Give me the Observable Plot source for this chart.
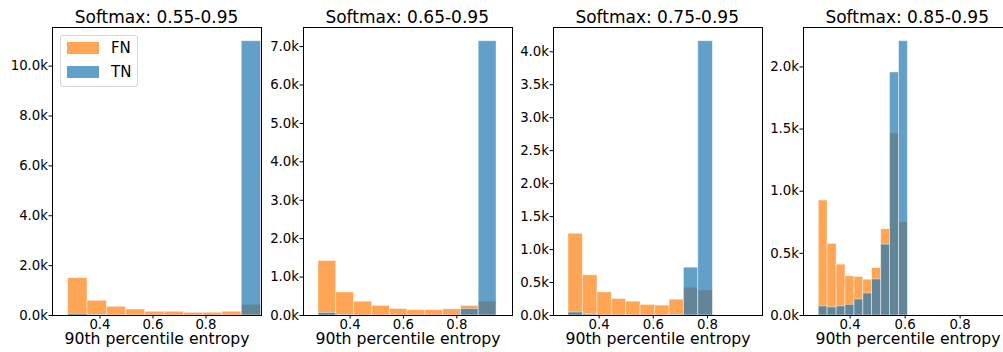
<!DOCTYPE html>
<html>
<head>
<meta charset="utf-8">
<script src="https://cdn.jsdelivr.net/npm/d3@7"></script>
<script src="https://cdn.jsdelivr.net/npm/@observablehq/plot@0.6"></script>
<style>
  html, body { margin: 0; padding: 0; background: #fff; }
  #chart { position: relative; width: 1003px; height: 352px; overflow: hidden; font-family: "DejaVu Sans", sans-serif; }
  .panel { position: absolute; top: 0; }
  .panel svg { max-width: none !important; display: block; }
  .title { position: absolute; top: 0; height: 26px; box-sizing: border-box; padding-top: 9px; font-size: 17px; line-height: 17px; text-align: center; color: #000; white-space: nowrap; }
  .legend { position: absolute; box-sizing: border-box; border: 1px solid rgba(204,204,204,0.8); border-radius: 3px; background: rgba(255,255,255,0.8); }
  .legend .sw { position: absolute; width: 32px; height: 11.7px; }
  .legend .lb { position: absolute; font-size: 15px; line-height: 12px; color: #000; }
</style>
</head>
<body>
<div id="chart"></div>
<script>
// ---- data ----
const titles = ["Softmax: 0.55-0.95", "Softmax: 0.65-0.95", "Softmax: 0.75-0.95", "Softmax: 0.85-0.95"];
const seriesNames = ["FN", "TN"];
const seriesColors = ["#ff7f0e", "#1f77b4"];
const xLabel = "90th percentile entropy";

const binEdges1 = [0.280, 0.353, 0.426, 0.499, 0.571, 0.644, 0.717, 0.790, 0.862, 0.935, 1.008];
const binEdges2 = [0.2815, 0.348, 0.415, 0.482, 0.549, 0.615, 0.682, 0.749, 0.816, 0.882, 0.949];
const binEdges3 = [0.287, 0.340, 0.394, 0.447, 0.500, 0.553, 0.607, 0.660, 0.713, 0.766, 0.820];
const binEdges4 = [0.286, 0.318, 0.351, 0.383, 0.416, 0.448, 0.480, 0.513, 0.545, 0.578, 0.610];

const fn1 = [1500, 590, 350, 240, 150, 150, 110, 110, 150, 430];
const tn1 = [65, 20, 0, 0, 0, 0, 0, 0, 0, 11000];
const fn2 = [1420, 600, 360, 250, 170, 140, 140, 160, 250, 360];
const tn2 = [65, 10, 0, 0, 0, 0, 0, 0, 170, 7140];
const fn3 = [1240, 610, 350, 250, 210, 160, 150, 240, 420, 380];
const tn3 = [45, 15, 0, 0, 0, 0, 0, 10, 725, 4160];
const fn4 = [925, 576, 409, 315, 310, 288, 382, 694, 1465, 750];
const tn4 = [73, 65, 73, 86, 129, 177, 290, 570, 1955, 2207];

const xDomains = [[0.2208, 1.0095], [0.2253, 1.0088], [0.2317, 1.003], [0.2305, 0.9905]];
const yMaxes = [11550, 7497, 4368, 2317];
const xTicks = [0.4, 0.6, 0.8];
const yTicks1 = [0, 2000, 4000, 6000, 8000, 10000];
const yTicks2 = [0, 1000, 2000, 3000, 4000, 5000, 6000, 7000];
const yTicks3 = [0, 500, 1000, 1500, 2000, 2500, 3000, 3500, 4000];
const yTicks4 = [0, 500, 1000, 1500, 2000];

// ---- layout ----
const panelLefts = [52, 302.7, 552.7, 802.7];
const frameW = 209;
const mLeft = 52, mRight = 10;
const svgTop = 26, svgH = 326, mTop = 1, mBottom = 37;

const panels = [
  {edges: binEdges1, fn: fn1, tn: tn1, yTicks: yTicks1},
  {edges: binEdges2, fn: fn2, tn: tn2, yTicks: yTicks2},
  {edges: binEdges3, fn: fn3, tn: tn3, yTicks: yTicks3},
  {edges: binEdges4, fn: fn4, tn: tn4, yTicks: yTicks4}
];

const chart = document.getElementById("chart");

function rows(edges, counts) {
  return counts.map((c, i) => ({x0: edges[i], x1: edges[i + 1], count: c})).filter(d => d.count > 0);
}

panels.forEach((p, i) => {
  const left = panelLefts[i];
  const title = document.createElement("div");
  title.className = "title";
  title.style.left = left + "px";
  title.style.width = frameW + "px";
  title.textContent = titles[i];
  chart.appendChild(title);

  const W = mLeft + frameW + mRight;
  const barOpts = {x1: "x0", x2: "x1", y1: 0, y2: "count", fillOpacity: 0.7, stroke: "white", strokeOpacity: 0.55, strokeWidth: 0.8};
  const svg = Plot.plot({
    width: W,
    height: svgH,
    marginLeft: mLeft, marginRight: mRight, marginTop: mTop, marginBottom: mBottom,
    x: {domain: xDomains[i]},
    y: {domain: [0, yMaxes[i]]},
    style: {fontFamily: "DejaVu Sans, sans-serif", fontSize: "13.3px", background: "transparent", color: "#000", overflow: "visible", maxWidth: "none"},
    marks: [
      Plot.rect(rows(p.edges, p.fn), {...barOpts, fill: seriesColors[0]}),
      Plot.rect(rows(p.edges, p.tn), {...barOpts, fill: seriesColors[1]}),
      Plot.axisX({ticks: xTicks, tickSize: 3.5, tickPadding: 1, fontSize: 13.3, tickFormat: d => d.toFixed(1), label: null}),
      Plot.axisY({ticks: p.yTicks, tickSize: 3.5, tickPadding: 1, fontSize: 13.3, tickFormat: d => (d / 1000).toFixed(1) + "k", label: null}),
      Plot.frame({stroke: "#000", strokeWidth: 1}),
      Plot.text([xLabel], {text: d => d, frameAnchor: "bottom", lineAnchor: "middle", dy: 23.5, fontSize: 15.7, fill: "#000"})
    ]
  });
  svg.style.maxWidth = "none";
  svg.setAttribute("width", W);
  const wrap = document.createElement("div");
  wrap.className = "panel";
  wrap.style.left = (left - mLeft) + "px";
  wrap.style.top = svgTop + "px";
  wrap.style.width = W + "px";
  wrap.style.height = svgH + "px";
  wrap.appendChild(svg);
  chart.appendChild(wrap);
});

// legend (first panel)
const legend = document.createElement("div");
legend.className = "legend";
legend.style.left = "60.3px"; legend.style.top = "35px";
legend.style.width = "78px"; legend.style.height = "51.7px";
seriesNames.forEach((name, k) => {
  const sw = document.createElement("div");
  sw.className = "sw";
  sw.style.left = "5.7px";
  sw.style.top = (6 + k * 24) + "px";
  sw.style.background = seriesColors[k];
  sw.style.opacity = 0.7;
  legend.appendChild(sw);
  const lb = document.createElement("div");
  lb.className = "lb";
  lb.style.left = "49.7px";
  lb.style.top = (6.3 + k * 24) + "px";
  lb.textContent = name;
  legend.appendChild(lb);
});
chart.appendChild(legend);
</script>
</body>
</html>
